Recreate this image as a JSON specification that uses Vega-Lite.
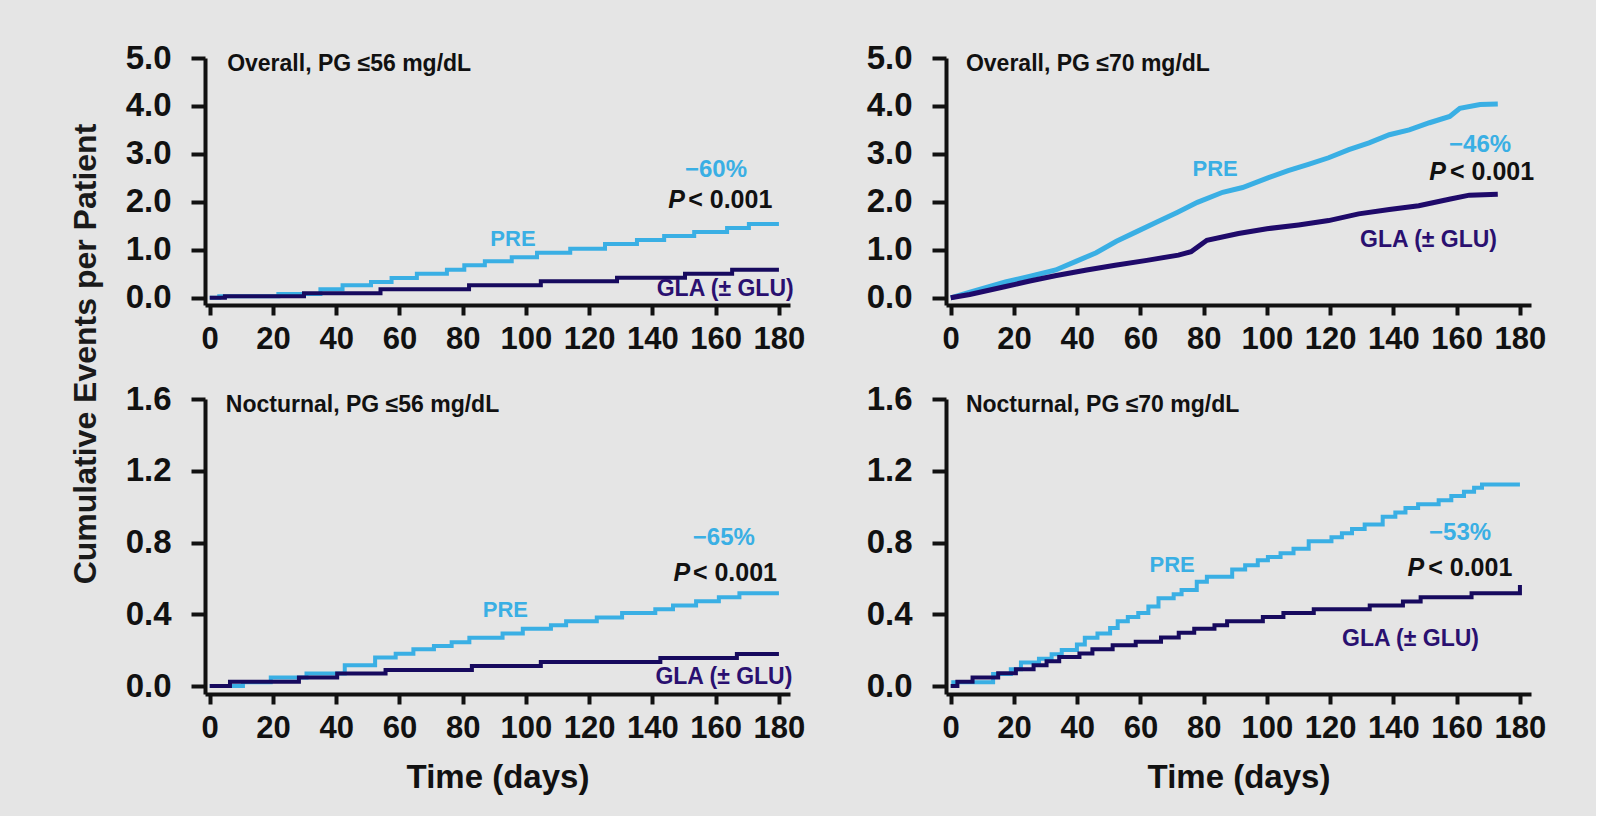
{
  "$schema": "https://vega.github.io/schema/vega-lite/v6.json",
  "background": "#e5e5e5",
  "padding": {"left": 70, "top": 42, "right": 50, "bottom": 22},
  "autosize": {"type": "pad"},
  "title": {"text": "Cumulative Events per Patient", "orient": "left", "anchor": "middle", "font": "Liberation Sans", "fontSize": 32, "fontWeight": "bold", "color": "#1a1a1a", "offset": 22, "dx": 64},
  "datasets": {
    "tl": [
      {"series": "PRE", "day": 0, "value": 0}, {"series": "PRE", "day": 3, "value": 0.03}, {"series": "PRE", "day": 21.7, "value": 0.08}, {"series": "PRE", "day": 35, "value": 0.177}, {"series": "PRE", "day": 42, "value": 0.26}, {"series": "PRE", "day": 51, "value": 0.33}, {"series": "PRE", "day": 57.5, "value": 0.414}, {"series": "PRE", "day": 65.5, "value": 0.504}, {"series": "PRE", "day": 75, "value": 0.587}, {"series": "PRE", "day": 80.5, "value": 0.677}, {"series": "PRE", "day": 87, "value": 0.761}, {"series": "PRE", "day": 95.5, "value": 0.844}, {"series": "PRE", "day": 103.5, "value": 0.941}, {"series": "PRE", "day": 114, "value": 1.025}, {"series": "PRE", "day": 125, "value": 1.12}, {"series": "PRE", "day": 135.1, "value": 1.205}, {"series": "PRE", "day": 143.7, "value": 1.289}, {"series": "PRE", "day": 153.2, "value": 1.372}, {"series": "PRE", "day": 163.6, "value": 1.456}, {"series": "PRE", "day": 170.5, "value": 1.539}, {"series": "PRE", "day": 180, "value": 1.539},
      {"series": "GLA", "day": 0, "value": 0}, {"series": "GLA", "day": 4.8, "value": 0.03}, {"series": "GLA", "day": 29.8, "value": 0.094}, {"series": "GLA", "day": 54, "value": 0.177}, {"series": "GLA", "day": 82, "value": 0.26}, {"series": "GLA", "day": 104.7, "value": 0.344}, {"series": "GLA", "day": 128.8, "value": 0.419}, {"series": "GLA", "day": 150.3, "value": 0.503}, {"series": "GLA", "day": 165.2, "value": 0.586}, {"series": "GLA", "day": 180, "value": 0.586}
    ],
    "tr": [
      {"series": "PRE", "day": 0, "value": 0}, {"series": "PRE", "day": 6.1, "value": 0.12}, {"series": "PRE", "day": 17.3, "value": 0.33}, {"series": "PRE", "day": 25.2, "value": 0.45}, {"series": "PRE", "day": 33.2, "value": 0.58}, {"series": "PRE", "day": 39.6, "value": 0.76}, {"series": "PRE", "day": 46, "value": 0.94}, {"series": "PRE", "day": 52.4, "value": 1.18}, {"series": "PRE", "day": 58.8, "value": 1.38}, {"series": "PRE", "day": 65.2, "value": 1.58}, {"series": "PRE", "day": 71.6, "value": 1.78}, {"series": "PRE", "day": 78, "value": 1.99}, {"series": "PRE", "day": 86, "value": 2.2}, {"series": "PRE", "day": 92.3, "value": 2.3}, {"series": "PRE", "day": 100.3, "value": 2.5}, {"series": "PRE", "day": 106.7, "value": 2.65}, {"series": "PRE", "day": 113.1, "value": 2.78}, {"series": "PRE", "day": 119.5, "value": 2.92}, {"series": "PRE", "day": 125.9, "value": 3.09}, {"series": "PRE", "day": 132.3, "value": 3.23}, {"series": "PRE", "day": 138.7, "value": 3.4}, {"series": "PRE", "day": 145, "value": 3.5}, {"series": "PRE", "day": 151.4, "value": 3.65}, {"series": "PRE", "day": 157.8, "value": 3.78}, {"series": "PRE", "day": 161, "value": 3.95}, {"series": "PRE", "day": 167.4, "value": 4.03}, {"series": "PRE", "day": 173, "value": 4.04},
      {"series": "GLA", "day": 0, "value": 0}, {"series": "GLA", "day": 6, "value": 0.07}, {"series": "GLA", "day": 17, "value": 0.23}, {"series": "GLA", "day": 25, "value": 0.35}, {"series": "GLA", "day": 33, "value": 0.46}, {"series": "GLA", "day": 43, "value": 0.58}, {"series": "GLA", "day": 52, "value": 0.68}, {"series": "GLA", "day": 62, "value": 0.78}, {"series": "GLA", "day": 72, "value": 0.89}, {"series": "GLA", "day": 76, "value": 0.96}, {"series": "GLA", "day": 81, "value": 1.2}, {"series": "GLA", "day": 91, "value": 1.34}, {"series": "GLA", "day": 100, "value": 1.44}, {"series": "GLA", "day": 110, "value": 1.52}, {"series": "GLA", "day": 119.5, "value": 1.61}, {"series": "GLA", "day": 129, "value": 1.75}, {"series": "GLA", "day": 138.7, "value": 1.84}, {"series": "GLA", "day": 148, "value": 1.92}, {"series": "GLA", "day": 158, "value": 2.06}, {"series": "GLA", "day": 164, "value": 2.14}, {"series": "GLA", "day": 173, "value": 2.16}
    ],
    "bl": [
      {"series": "PRE", "day": 0, "value": 0}, {"series": "PRE", "day": 10.5, "value": 0.022}, {"series": "PRE", "day": 19.3, "value": 0.048}, {"series": "PRE", "day": 30.6, "value": 0.07}, {"series": "PRE", "day": 42.7, "value": 0.116}, {"series": "PRE", "day": 52.3, "value": 0.159}, {"series": "PRE", "day": 58.8, "value": 0.181}, {"series": "PRE", "day": 64.4, "value": 0.205}, {"series": "PRE", "day": 70.9, "value": 0.223}, {"series": "PRE", "day": 76.5, "value": 0.245}, {"series": "PRE", "day": 82.1, "value": 0.269}, {"series": "PRE", "day": 92.6, "value": 0.293}, {"series": "PRE", "day": 99, "value": 0.319}, {"series": "PRE", "day": 107.9, "value": 0.339}, {"series": "PRE", "day": 112.7, "value": 0.361}, {"series": "PRE", "day": 122.4, "value": 0.383}, {"series": "PRE", "day": 130.4, "value": 0.407}, {"series": "PRE", "day": 140.9, "value": 0.429}, {"series": "PRE", "day": 146.5, "value": 0.449}, {"series": "PRE", "day": 153.8, "value": 0.473}, {"series": "PRE", "day": 161, "value": 0.495}, {"series": "PRE", "day": 167.5, "value": 0.517}, {"series": "PRE", "day": 180, "value": 0.517},
      {"series": "GLA", "day": 0, "value": 0}, {"series": "GLA", "day": 6.4, "value": 0.024}, {"series": "GLA", "day": 28.2, "value": 0.048}, {"series": "GLA", "day": 40.3, "value": 0.07}, {"series": "GLA", "day": 55.6, "value": 0.09}, {"series": "GLA", "day": 82.9, "value": 0.112}, {"series": "GLA", "day": 104.7, "value": 0.134}, {"series": "GLA", "day": 142.5, "value": 0.156}, {"series": "GLA", "day": 166.7, "value": 0.179}, {"series": "GLA", "day": 180, "value": 0.179}
    ],
    "br": [
      {"series": "PRE", "day": 0, "value": 0}, {"series": "PRE", "day": 0.8, "value": 0.021}, {"series": "PRE", "day": 13.4, "value": 0.067}, {"series": "PRE", "day": 19, "value": 0.094}, {"series": "PRE", "day": 22.2, "value": 0.131}, {"series": "PRE", "day": 27.9, "value": 0.153}, {"series": "PRE", "day": 31.9, "value": 0.177}, {"series": "PRE", "day": 35.1, "value": 0.201}, {"series": "PRE", "day": 39.9, "value": 0.232}, {"series": "PRE", "day": 42.4, "value": 0.269}, {"series": "PRE", "day": 46.4, "value": 0.293}, {"series": "PRE", "day": 50.4, "value": 0.324}, {"series": "PRE", "day": 52.8, "value": 0.361}, {"series": "PRE", "day": 56, "value": 0.385}, {"series": "PRE", "day": 59.3, "value": 0.407}, {"series": "PRE", "day": 62.5, "value": 0.444}, {"series": "PRE", "day": 65.7, "value": 0.49}, {"series": "PRE", "day": 70.5, "value": 0.512}, {"series": "PRE", "day": 73, "value": 0.535}, {"series": "PRE", "day": 77.8, "value": 0.581}, {"series": "PRE", "day": 81, "value": 0.609}, {"series": "PRE", "day": 89, "value": 0.65}, {"series": "PRE", "day": 93.1, "value": 0.673}, {"series": "PRE", "day": 97.1, "value": 0.701}, {"series": "PRE", "day": 100.3, "value": 0.719}, {"series": "PRE", "day": 104.3, "value": 0.741}, {"series": "PRE", "day": 108.4, "value": 0.765}, {"series": "PRE", "day": 113.2, "value": 0.807}, {"series": "PRE", "day": 120.4, "value": 0.829}, {"series": "PRE", "day": 123.7, "value": 0.852}, {"series": "PRE", "day": 126.9, "value": 0.876}, {"series": "PRE", "day": 130.9, "value": 0.9}, {"series": "PRE", "day": 136.6, "value": 0.944}, {"series": "PRE", "day": 140.6, "value": 0.967}, {"series": "PRE", "day": 143.8, "value": 0.992}, {"series": "PRE", "day": 147.8, "value": 1.014}, {"series": "PRE", "day": 154.3, "value": 1.036}, {"series": "PRE", "day": 158.3, "value": 1.059}, {"series": "PRE", "day": 162.3, "value": 1.083}, {"series": "PRE", "day": 165.5, "value": 1.105}, {"series": "PRE", "day": 168, "value": 1.124}, {"series": "PRE", "day": 180, "value": 1.124},
      {"series": "GLA", "day": 0, "value": 0}, {"series": "GLA", "day": 2.1, "value": 0.024}, {"series": "GLA", "day": 6.9, "value": 0.048}, {"series": "GLA", "day": 15, "value": 0.072}, {"series": "GLA", "day": 20.6, "value": 0.094}, {"series": "GLA", "day": 26.2, "value": 0.116}, {"series": "GLA", "day": 30.3, "value": 0.138}, {"series": "GLA", "day": 34.3, "value": 0.162}, {"series": "GLA", "day": 40.7, "value": 0.182}, {"series": "GLA", "day": 44.8, "value": 0.205}, {"series": "GLA", "day": 51.2, "value": 0.227}, {"series": "GLA", "day": 58.5, "value": 0.247}, {"series": "GLA", "day": 66.5, "value": 0.271}, {"series": "GLA", "day": 72.1, "value": 0.297}, {"series": "GLA", "day": 77, "value": 0.319}, {"series": "GLA", "day": 83.4, "value": 0.339}, {"series": "GLA", "day": 87.4, "value": 0.361}, {"series": "GLA", "day": 98.7, "value": 0.385}, {"series": "GLA", "day": 105.2, "value": 0.407}, {"series": "GLA", "day": 114.8, "value": 0.429}, {"series": "GLA", "day": 132.5, "value": 0.449}, {"series": "GLA", "day": 143, "value": 0.471}, {"series": "GLA", "day": 148.6, "value": 0.495}, {"series": "GLA", "day": 164.7, "value": 0.517}, {"series": "GLA", "day": 180, "value": 0.517}, {"series": "GLA", "day": 180, "value": 0.563}
    ],
    "tl_text": [
      {"kind": "title", "label": "Overall, PG ≤56 mg/dL", "day": 5.5, "value": 4.875},
      {"kind": "pct", "label": "−60%", "day": 169.9, "value": 2.665},
      {"kind": "p", "label": "P", "day": 150.3, "value": 2.04},
      {"kind": "pval", "label": "< 0.001", "day": 151.3, "value": 2.04},
      {"kind": "PRE", "label": "PRE", "day": 95.9, "value": 1.226},
      {"kind": "GLA", "label": "GLA (± GLU)", "day": 163, "value": 0.183}
    ],
    "tr_text": [
      {"kind": "title", "label": "Overall, PG ≤70 mg/dL", "day": 4.8, "value": 4.875},
      {"kind": "pct", "label": "−46%", "day": 177.2, "value": 3.19},
      {"kind": "p", "label": "P", "day": 156.6, "value": 2.62},
      {"kind": "pval", "label": "< 0.001", "day": 157.9, "value": 2.62},
      {"kind": "PRE", "label": "PRE", "day": 83.6, "value": 2.69},
      {"kind": "GLA", "label": "GLA (± GLU)", "day": 151.1, "value": 1.205}
    ],
    "bl_text": [
      {"kind": "title", "label": "Nocturnal, PG ≤56 mg/dL", "day": 5.1, "value": 1.567},
      {"kind": "pct", "label": "−65%", "day": 172.4, "value": 0.828},
      {"kind": "p", "label": "P", "day": 151.9, "value": 0.629},
      {"kind": "pval", "label": "< 0.001", "day": 152.8, "value": 0.629},
      {"kind": "PRE", "label": "PRE", "day": 93.5, "value": 0.425},
      {"kind": "GLA", "label": "GLA (± GLU)", "day": 162.6, "value": 0.05}
    ],
    "br_text": [
      {"kind": "title", "label": "Nocturnal, PG ≤70 mg/dL", "day": 4.8, "value": 1.567},
      {"kind": "pct", "label": "−53%", "day": 170.9, "value": 0.855},
      {"kind": "p", "label": "P", "day": 149.7, "value": 0.657},
      {"kind": "pval", "label": "< 0.001", "day": 151, "value": 0.657},
      {"kind": "PRE", "label": "PRE", "day": 70, "value": 0.673},
      {"kind": "GLA", "label": "GLA (± GLU)", "day": 145.4, "value": 0.26}
    ]
  },
  "concat": [
    {
      "width": 585, "height": 247,
      "layer": [
        {"data": {"name": "tl"}, "transform": [{"filter": "datum.series == 'PRE'"}], "mark": {"type": "line", "interpolate": "step-after", "color": "#3aafe4", "strokeWidth": 4},
         "encoding": {"x": {"field": "day", "type": "quantitative", "scale": {"domain": [-1.5, 183.5], "nice": false, "zero": false}, "axis": {"values": [0, 20, 40, 60, 80, 100, 120, 140, 160, 180], "title": null}},
                      "y": {"field": "value", "type": "quantitative", "scale": {"domain": [-0.15, 5], "nice": false, "zero": false}, "axis": {"values": [0, 1, 2, 3, 4, 5], "format": ".1f", "title": null}}}},
        {"data": {"name": "tl"}, "transform": [{"filter": "datum.series == 'GLA'"}], "mark": {"type": "line", "interpolate": "step-after", "color": "#170a5e", "strokeWidth": 4},
         "encoding": {"x": {"field": "day", "type": "quantitative"}, "y": {"field": "value", "type": "quantitative"}}},
        {"data": {"name": "tl_text"}, "transform": [{"filter": "datum.kind == 'title'"}], "mark": {"type": "text", "align": "left", "baseline": "middle", "fontSize": 23, "fontWeight": "bold", "color": "#111111"},
         "encoding": {"x": {"field": "day", "type": "quantitative"}, "y": {"field": "value", "type": "quantitative"}, "text": {"field": "label"}}},
        {"data": {"name": "tl_text"}, "transform": [{"filter": "datum.kind == 'pval'"}], "mark": {"type": "text", "align": "left", "baseline": "middle", "fontSize": 25, "fontWeight": "bold", "color": "#111111"},
         "encoding": {"x": {"field": "day", "type": "quantitative"}, "y": {"field": "value", "type": "quantitative"}, "text": {"field": "label"}}},
        {"data": {"name": "tl_text"}, "transform": [{"filter": "datum.kind == 'p'"}], "mark": {"type": "text", "align": "right", "baseline": "middle", "fontSize": 25, "fontWeight": "bold", "fontStyle": "italic", "color": "#111111"},
         "encoding": {"x": {"field": "day", "type": "quantitative"}, "y": {"field": "value", "type": "quantitative"}, "text": {"field": "label"}}},
        {"data": {"name": "tl_text"}, "transform": [{"filter": "datum.kind == 'pct'"}], "mark": {"type": "text", "align": "right", "baseline": "middle", "fontSize": 24, "fontWeight": "bold", "color": "#3aafe4"},
         "encoding": {"x": {"field": "day", "type": "quantitative"}, "y": {"field": "value", "type": "quantitative"}, "text": {"field": "label"}}},
        {"data": {"name": "tl_text"}, "transform": [{"filter": "datum.kind == 'PRE'"}], "mark": {"type": "text", "align": "center", "baseline": "middle", "fontSize": 22, "fontWeight": "bold", "color": "#3aafe4"},
         "encoding": {"x": {"field": "day", "type": "quantitative"}, "y": {"field": "value", "type": "quantitative"}, "text": {"field": "label"}}},
        {"data": {"name": "tl_text"}, "transform": [{"filter": "datum.kind == 'GLA'"}], "mark": {"type": "text", "align": "center", "baseline": "middle", "fontSize": 23, "fontWeight": "bold", "color": "#2a1070"},
         "encoding": {"x": {"field": "day", "type": "quantitative"}, "y": {"field": "value", "type": "quantitative"}, "text": {"field": "label"}}}
      ]
    },
    {
      "width": 585, "height": 247,
      "layer": [
        {"data": {"name": "tr"}, "transform": [{"filter": "datum.series == 'PRE'"}], "mark": {"type": "line", "interpolate": "linear", "color": "#3aafe4", "strokeWidth": 5},
         "encoding": {"x": {"field": "day", "type": "quantitative", "scale": {"domain": [-1.5, 183.5], "nice": false, "zero": false}, "axis": {"values": [0, 20, 40, 60, 80, 100, 120, 140, 160, 180], "title": null}},
                      "y": {"field": "value", "type": "quantitative", "scale": {"domain": [-0.15, 5], "nice": false, "zero": false}, "axis": {"values": [0, 1, 2, 3, 4, 5], "format": ".1f", "title": null}}}},
        {"data": {"name": "tr"}, "transform": [{"filter": "datum.series == 'GLA'"}], "mark": {"type": "line", "interpolate": "linear", "color": "#1f0a6a", "strokeWidth": 5},
         "encoding": {"x": {"field": "day", "type": "quantitative"}, "y": {"field": "value", "type": "quantitative"}}},
        {"data": {"name": "tr_text"}, "transform": [{"filter": "datum.kind == 'title'"}], "mark": {"type": "text", "align": "left", "baseline": "middle", "fontSize": 23, "fontWeight": "bold", "color": "#111111"},
         "encoding": {"x": {"field": "day", "type": "quantitative"}, "y": {"field": "value", "type": "quantitative"}, "text": {"field": "label"}}},
        {"data": {"name": "tr_text"}, "transform": [{"filter": "datum.kind == 'pval'"}], "mark": {"type": "text", "align": "left", "baseline": "middle", "fontSize": 25, "fontWeight": "bold", "color": "#111111"},
         "encoding": {"x": {"field": "day", "type": "quantitative"}, "y": {"field": "value", "type": "quantitative"}, "text": {"field": "label"}}},
        {"data": {"name": "tr_text"}, "transform": [{"filter": "datum.kind == 'p'"}], "mark": {"type": "text", "align": "right", "baseline": "middle", "fontSize": 25, "fontWeight": "bold", "fontStyle": "italic", "color": "#111111"},
         "encoding": {"x": {"field": "day", "type": "quantitative"}, "y": {"field": "value", "type": "quantitative"}, "text": {"field": "label"}}},
        {"data": {"name": "tr_text"}, "transform": [{"filter": "datum.kind == 'pct'"}], "mark": {"type": "text", "align": "right", "baseline": "middle", "fontSize": 24, "fontWeight": "bold", "color": "#3aafe4"},
         "encoding": {"x": {"field": "day", "type": "quantitative"}, "y": {"field": "value", "type": "quantitative"}, "text": {"field": "label"}}},
        {"data": {"name": "tr_text"}, "transform": [{"filter": "datum.kind == 'PRE'"}], "mark": {"type": "text", "align": "center", "baseline": "middle", "fontSize": 22, "fontWeight": "bold", "color": "#3aafe4"},
         "encoding": {"x": {"field": "day", "type": "quantitative"}, "y": {"field": "value", "type": "quantitative"}, "text": {"field": "label"}}},
        {"data": {"name": "tr_text"}, "transform": [{"filter": "datum.kind == 'GLA'"}], "mark": {"type": "text", "align": "center", "baseline": "middle", "fontSize": 23, "fontWeight": "bold", "color": "#2a1070"},
         "encoding": {"x": {"field": "day", "type": "quantitative"}, "y": {"field": "value", "type": "quantitative"}, "text": {"field": "label"}}}
      ]
    },
    {
      "width": 585, "height": 295,
      "layer": [
        {"data": {"name": "bl"}, "transform": [{"filter": "datum.series == 'PRE'"}], "mark": {"type": "line", "interpolate": "step-after", "color": "#3aafe4", "strokeWidth": 4},
         "encoding": {"x": {"field": "day", "type": "quantitative", "scale": {"domain": [-1.5, 183.5], "nice": false, "zero": false}, "axis": {"values": [0, 20, 40, 60, 80, 100, 120, 140, 160, 180], "title": "Time (days)"}},
                      "y": {"field": "value", "type": "quantitative", "scale": {"domain": [-0.044, 1.6], "nice": false, "zero": false}, "axis": {"values": [0, 0.4, 0.8, 1.2, 1.6], "format": ".1f", "title": null}}}},
        {"data": {"name": "bl"}, "transform": [{"filter": "datum.series == 'GLA'"}], "mark": {"type": "line", "interpolate": "step-after", "color": "#170a5e", "strokeWidth": 4},
         "encoding": {"x": {"field": "day", "type": "quantitative"}, "y": {"field": "value", "type": "quantitative"}}},
        {"data": {"name": "bl_text"}, "transform": [{"filter": "datum.kind == 'title'"}], "mark": {"type": "text", "align": "left", "baseline": "middle", "fontSize": 23, "fontWeight": "bold", "color": "#111111"},
         "encoding": {"x": {"field": "day", "type": "quantitative"}, "y": {"field": "value", "type": "quantitative"}, "text": {"field": "label"}}},
        {"data": {"name": "bl_text"}, "transform": [{"filter": "datum.kind == 'pval'"}], "mark": {"type": "text", "align": "left", "baseline": "middle", "fontSize": 25, "fontWeight": "bold", "color": "#111111"},
         "encoding": {"x": {"field": "day", "type": "quantitative"}, "y": {"field": "value", "type": "quantitative"}, "text": {"field": "label"}}},
        {"data": {"name": "bl_text"}, "transform": [{"filter": "datum.kind == 'p'"}], "mark": {"type": "text", "align": "right", "baseline": "middle", "fontSize": 25, "fontWeight": "bold", "fontStyle": "italic", "color": "#111111"},
         "encoding": {"x": {"field": "day", "type": "quantitative"}, "y": {"field": "value", "type": "quantitative"}, "text": {"field": "label"}}},
        {"data": {"name": "bl_text"}, "transform": [{"filter": "datum.kind == 'pct'"}], "mark": {"type": "text", "align": "right", "baseline": "middle", "fontSize": 24, "fontWeight": "bold", "color": "#3aafe4"},
         "encoding": {"x": {"field": "day", "type": "quantitative"}, "y": {"field": "value", "type": "quantitative"}, "text": {"field": "label"}}},
        {"data": {"name": "bl_text"}, "transform": [{"filter": "datum.kind == 'PRE'"}], "mark": {"type": "text", "align": "center", "baseline": "middle", "fontSize": 22, "fontWeight": "bold", "color": "#3aafe4"},
         "encoding": {"x": {"field": "day", "type": "quantitative"}, "y": {"field": "value", "type": "quantitative"}, "text": {"field": "label"}}},
        {"data": {"name": "bl_text"}, "transform": [{"filter": "datum.kind == 'GLA'"}], "mark": {"type": "text", "align": "center", "baseline": "middle", "fontSize": 23, "fontWeight": "bold", "color": "#2a1070"},
         "encoding": {"x": {"field": "day", "type": "quantitative"}, "y": {"field": "value", "type": "quantitative"}, "text": {"field": "label"}}}
      ]
    },
    {
      "width": 585, "height": 295,
      "layer": [
        {"data": {"name": "br"}, "transform": [{"filter": "datum.series == 'PRE'"}], "mark": {"type": "line", "interpolate": "step-after", "color": "#3aafe4", "strokeWidth": 4},
         "encoding": {"x": {"field": "day", "type": "quantitative", "scale": {"domain": [-1.5, 183.5], "nice": false, "zero": false}, "axis": {"values": [0, 20, 40, 60, 80, 100, 120, 140, 160, 180], "title": "Time (days)"}},
                      "y": {"field": "value", "type": "quantitative", "scale": {"domain": [-0.044, 1.6], "nice": false, "zero": false}, "axis": {"values": [0, 0.4, 0.8, 1.2, 1.6], "format": ".1f", "title": null}}}},
        {"data": {"name": "br"}, "transform": [{"filter": "datum.series == 'GLA'"}], "mark": {"type": "line", "interpolate": "step-after", "color": "#170a5e", "strokeWidth": 4},
         "encoding": {"x": {"field": "day", "type": "quantitative"}, "y": {"field": "value", "type": "quantitative"}}},
        {"data": {"name": "br_text"}, "transform": [{"filter": "datum.kind == 'title'"}], "mark": {"type": "text", "align": "left", "baseline": "middle", "fontSize": 23, "fontWeight": "bold", "color": "#111111"},
         "encoding": {"x": {"field": "day", "type": "quantitative"}, "y": {"field": "value", "type": "quantitative"}, "text": {"field": "label"}}},
        {"data": {"name": "br_text"}, "transform": [{"filter": "datum.kind == 'pval'"}], "mark": {"type": "text", "align": "left", "baseline": "middle", "fontSize": 25, "fontWeight": "bold", "color": "#111111"},
         "encoding": {"x": {"field": "day", "type": "quantitative"}, "y": {"field": "value", "type": "quantitative"}, "text": {"field": "label"}}},
        {"data": {"name": "br_text"}, "transform": [{"filter": "datum.kind == 'p'"}], "mark": {"type": "text", "align": "right", "baseline": "middle", "fontSize": 25, "fontWeight": "bold", "fontStyle": "italic", "color": "#111111"},
         "encoding": {"x": {"field": "day", "type": "quantitative"}, "y": {"field": "value", "type": "quantitative"}, "text": {"field": "label"}}},
        {"data": {"name": "br_text"}, "transform": [{"filter": "datum.kind == 'pct'"}], "mark": {"type": "text", "align": "right", "baseline": "middle", "fontSize": 24, "fontWeight": "bold", "color": "#3aafe4"},
         "encoding": {"x": {"field": "day", "type": "quantitative"}, "y": {"field": "value", "type": "quantitative"}, "text": {"field": "label"}}},
        {"data": {"name": "br_text"}, "transform": [{"filter": "datum.kind == 'PRE'"}], "mark": {"type": "text", "align": "center", "baseline": "middle", "fontSize": 22, "fontWeight": "bold", "color": "#3aafe4"},
         "encoding": {"x": {"field": "day", "type": "quantitative"}, "y": {"field": "value", "type": "quantitative"}, "text": {"field": "label"}}},
        {"data": {"name": "br_text"}, "transform": [{"filter": "datum.kind == 'GLA'"}], "mark": {"type": "text", "align": "center", "baseline": "middle", "fontSize": 23, "fontWeight": "bold", "color": "#2a1070"},
         "encoding": {"x": {"field": "day", "type": "quantitative"}, "y": {"field": "value", "type": "quantitative"}, "text": {"field": "label"}}}
      ]
    }
  ],
  "columns": 2,
  "spacing": {"row": 94, "column": 156},
  "bounds": "flush",
  "align": "each",
  "config": {
    "view": {"stroke": null},
    "font": "Liberation Sans",
    "text": {"font": "Liberation Sans"},
    "axis": {
      "grid": false,
      "domainColor": "#111111", "domainWidth": 4,
      "tickColor": "#111111", "tickWidth": 4, "tickSize": 14,
      "labelFont": "Liberation Sans", "labelFontSize": 31, "labelFontWeight": "bold", "labelColor": "#111111",
      "titleFont": "Liberation Sans", "titleFontSize": 33, "titleFontWeight": "bold", "titleColor": "#111111"
    },
    "axisX": {"tickSize": 10, "labelPadding": 9, "labelAngle": 0, "labelFlush": false, "labelOverlap": false, "labelBound": false, "titlePadding": 18},
    "axisY": {"labelPadding": 20, "labelFontSize": 33, "labelOverlap": false, "labelFlush": false}
  }
}
